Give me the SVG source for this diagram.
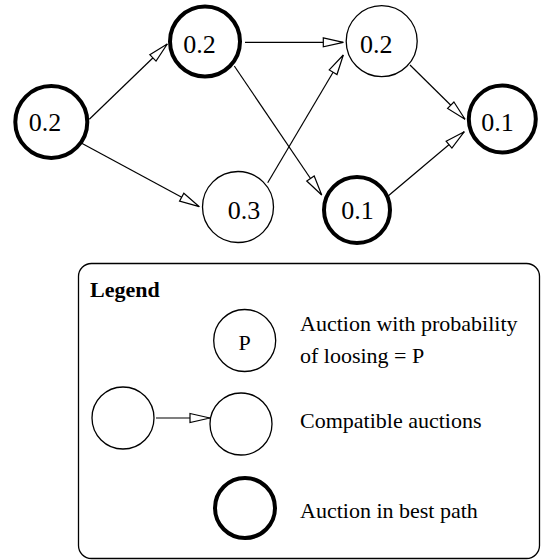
<svg xmlns="http://www.w3.org/2000/svg" width="541" height="560" viewBox="0 0 541 560">
<style>
  .thin { fill: #fff; stroke: #000; stroke-width: 1.3; }
  .bold { fill: #fff; stroke: #000; stroke-width: 4; }
  .lbl { font-size: 26px; fill: #000; text-anchor: middle; }
  .leg { font-size: 22px; fill: #000; }
  .edge { stroke: #000; stroke-width: 1.2; fill: none; marker-end: url(#arr); }
</style>
<defs>
  <marker id="arr" markerUnits="userSpaceOnUse" markerWidth="22" markerHeight="12" refX="20" refY="5" orient="auto" overflow="visible">
    <path d="M0,0.5 L20,5 L0,9.5 Z" fill="#fff" stroke="#000" stroke-width="1.2" stroke-linejoin="miter"/>
  </marker>
</defs>
<rect width="541" height="560" fill="#fff"/>
<g id="connectors">
  <line class="edge" x1="89.3" y1="119.3" x2="167.3" y2="44"/>
  <line class="edge" x1="81.7" y1="143.3" x2="199.3" y2="206.7"/>
  <line class="edge" x1="245" y1="42.3" x2="343.3" y2="42.3"/>
  <line class="edge" x1="234.3" y1="66" x2="321.7" y2="195"/>
  <line class="edge" x1="267.7" y1="182.7" x2="343.3" y2="55"/>
  <line class="edge" x1="410" y1="65" x2="465" y2="119.3"/>
  <line class="edge" x1="387.5" y1="196.5" x2="464.3" y2="131.7"/>
</g>
<g font-family="Liberation Serif, Times New Roman, DejaVu Serif, serif">
<g id="nA"><circle class="bold" cx="51.3" cy="122" r="36"/><text class="lbl" x="45" y="130.7">0.2</text></g>
<g id="nB"><circle class="bold" cx="205" cy="41.5" r="35"/><text class="lbl" x="199.5" y="52.7">0.2</text></g>
<g id="nC"><circle class="thin" cx="238" cy="207" r="35.5"/><text class="lbl" x="244" y="219.3">0.3</text></g>
<g id="nD"><circle class="thin" cx="381.7" cy="41.2" r="35.5"/><text class="lbl" x="376.3" y="52.7">0.2</text></g>
<g id="nE"><circle class="bold" cx="357" cy="210" r="33"/><text class="lbl" x="357.5" y="219.3">0.1</text></g>
<g id="nF"><circle class="bold" cx="502.3" cy="119" r="33.5"/><text class="lbl" x="497.5" y="130.7">0.1</text></g>
<g id="legend">
  <rect x="78.5" y="263.5" width="461" height="295" rx="13" ry="13" fill="none" stroke="#000" stroke-width="1.3"/>
  <text class="leg" x="90" y="296.7" font-weight="bold">Legend</text>
  <circle class="thin" cx="244.7" cy="340.5" r="31"/>
  <text class="leg" x="244.7" y="350" text-anchor="middle">P</text>
  <text class="leg" x="300" y="330.7">Auction with probability</text>
  <text class="leg" x="300" y="363.3">of loosing = P</text>
  <circle class="thin" cx="123" cy="418" r="31"/>
  <line class="edge" x1="156" y1="418" x2="210" y2="418"/>
  <circle class="thin" cx="241" cy="424" r="31"/>
  <text class="leg" x="300" y="428.3">Compatible auctions</text>
  <circle class="bold" cx="245" cy="508" r="30"/>
  <text class="leg" x="300" y="518.3">Auction in best path</text>
</g>
</g>
</svg>
